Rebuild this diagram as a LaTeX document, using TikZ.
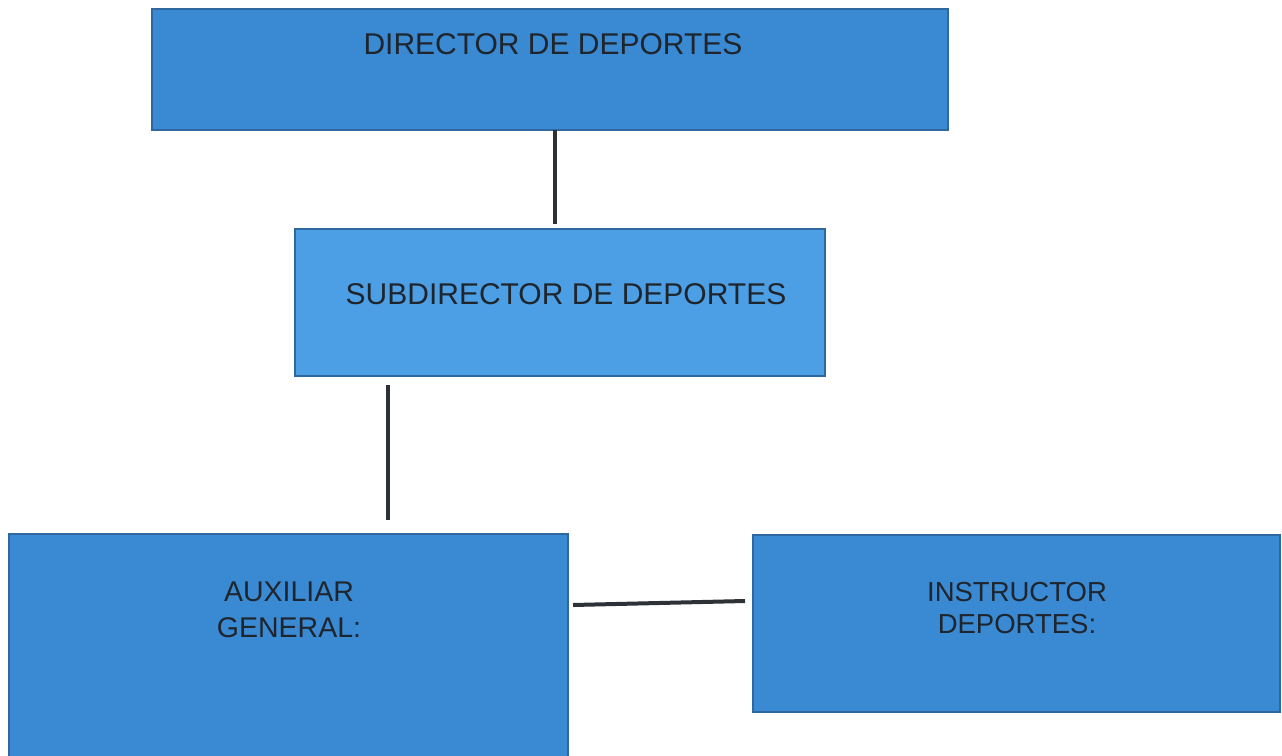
\documentclass[tikz,border=0pt]{standalone}
\usepackage{fontspec}
\setmainfont{Liberation Sans}
\definecolor{boxfill}{HTML}{3A89D3}
\definecolor{subfill}{HTML}{4C9FE4}
\definecolor{boxline}{HTML}{2F689F}
\definecolor{txt}{HTML}{1F252C}
\definecolor{lineclr}{HTML}{2E3236}
\tikzset{
  orgbox/.style={draw=boxline, line width=2pt, fill=boxfill, inner sep=0pt, outer sep=0pt},
  lbl/.style={text=txt, font=\fontsize{30}{38}\selectfont, align=center, inner sep=0pt},
  conn/.style={draw=lineclr, line width=4pt}
}
\begin{document}
\begin{tikzpicture}[x=1pt,y=-1pt]
\useasboundingbox (0,0) rectangle (1282,755);
\fill[white] (0,0) rectangle (1282,755);
% boxes
\node[orgbox, minimum width=796pt, minimum height=121pt] (dir) at (550,69.5) {};
\node[orgbox, fill=subfill, minimum width=530pt, minimum height=147pt] (sub) at (560,302.5) {};
\node[orgbox, minimum width=559pt, minimum height=226pt] (aux) at (288.5,647) {};
\node[orgbox, minimum width=527pt, minimum height=177pt] (ins) at (1016.5,623.5) {};
% labels
\node[lbl] (tdir) at (553,44) {DIRECTOR DE DEPORTES};
\node[lbl] (tsub) at (566,294) {SUBDIRECTOR DE DEPORTES};
\node[lbl, font=\fontsize{28.5}{36}\selectfont] (taux) at (289,610) {AUXILIAR\\GENERAL:};
\node[lbl, font=\fontsize{27.5}{31.5}\selectfont] (tins) at (1017,608) {INSTRUCTOR\\DEPORTES:};
% connectors
\coordinate (x1) at (555,0);
\coordinate (x2) at (388,0);
\draw[conn, shorten >=5pt] (dir.south -| x1) -- (sub.north -| x1);
\draw[conn, shorten <=9pt, shorten >=14pt] (sub.south -| x2) -- (aux.north -| x2);
\coordinate (h1) at (573,605);
\coordinate (h2) at (745,601);
\draw[conn] (h1) -- (h2);
\end{tikzpicture}
\end{document}
